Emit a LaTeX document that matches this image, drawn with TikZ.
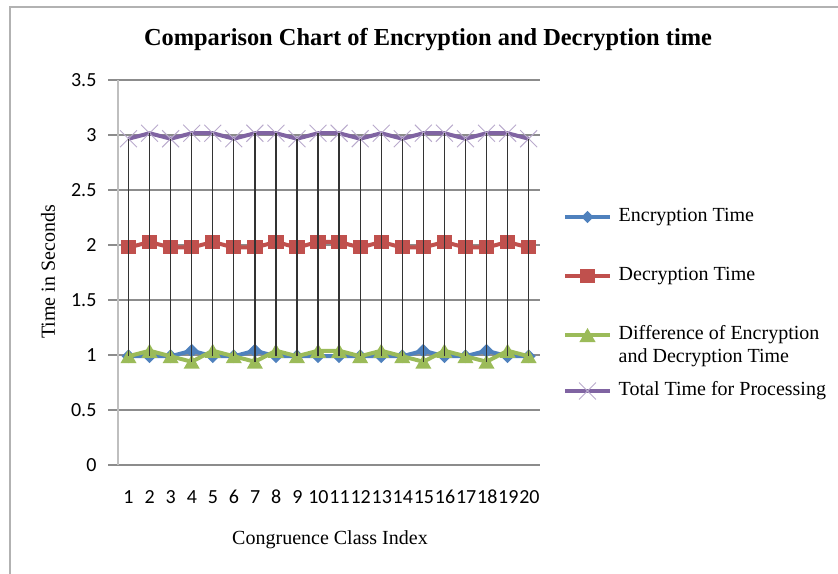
\documentclass[tikz,border=0pt]{standalone}
\usepackage{fontspec}
\setmainfont{Liberation Serif}
\newfontfamily\tickfont{Carlito}
\usetikzlibrary{calc,positioning,shapes.geometric,shapes.misc}

\definecolor{encblue}{HTML}{4F81BD}
\definecolor{decred}{HTML}{C0504D}
\definecolor{diffgreen}{HTML}{9BBB59}
\definecolor{totpurple}{HTML}{8064A2}

\tikzset{
  gridline/.style={draw=gray!90,line width=0.8pt},
  axisline/.style={draw=gray!50,line width=1.1pt},
  dropline/.style={draw=black!80,line width=1pt},
  series/.style={line width=3pt,line join=round},
  encmark/.style={diamond,fill=encblue,inner sep=0pt,minimum width=10.5pt,minimum height=10.5pt},
  decmark/.style={rectangle,fill=decred,inner sep=0pt,minimum width=11.5pt,minimum height=10.5pt},
  diffmark/.style={regular polygon,regular polygon sides=3,fill=diffgreen,inner sep=0pt,minimum size=14pt,yshift=-1.75pt},
  totmark/.style={cross out,draw=totpurple!55,line width=0.7pt,inner sep=0pt,minimum size=12pt},
  ticklabel/.style={font=\tickfont\fontsize{15}{15}\selectfont},
  axistitle/.style={font=\fontsize{15}{15}\selectfont},
  legendtext/.style={font=\fontsize{15}{17.25}\selectfont,anchor=west,align=left},
}

\begin{document}
\begin{tikzpicture}[x=0.75pt,y=-0.75pt]
  \useasboundingbox (0,0) rectangle (838,574);

  % frame of the chart
  \draw[draw=gray!60,line width=1.5pt] (10,574) -- (10,7) -- (838,7);

  \node[font=\bfseries\fontsize{18.3}{20}\selectfont] (title) at (428,40)
    {Comparison Chart of Encryption and Decryption time};

  \begin{scope}[shift={(107.45,465)},xscale=21.1,yscale=-110]
    % value axis and grid
    \foreach \v [count=\k] in {0,0.5,1,1.5,2,2.5,3,3.5} {
      \draw[gridline] (0.03,\v) -- (20.5,\v);
      \node[ticklabel,anchor=east] (y\k) at (-0.3,\v) {\v};
    }
    \draw[axisline] (0.5,0) -- (0.5,3.5);

    \foreach \i in {1,...,20}
      \node[ticklabel] (x\i) at (\i,-0.29) {\i};

    % index/enc/dec/diff/total
    \foreach \i/\e/\d/\f/\t in {1/0.99/1.98/0.99/2.97, 2/0.99/2.03/1.04/3.02,
        3/0.99/1.98/0.99/2.97, 4/1.04/1.98/0.94/3.02, 5/0.99/2.03/1.04/3.02,
        6/0.99/1.98/0.99/2.97, 7/1.04/1.98/0.94/3.02, 8/0.99/2.03/1.04/3.02,
        9/0.99/1.98/0.99/2.97, 10/0.99/2.03/1.04/3.02, 11/0.99/2.03/1.04/3.02,
        12/0.99/1.98/0.99/2.97, 13/0.99/2.03/1.04/3.02, 14/0.99/1.98/0.99/2.97,
        15/1.04/1.98/0.94/3.02, 16/0.99/2.03/1.04/3.02, 17/0.99/1.98/0.99/2.97,
        18/1.04/1.98/0.94/3.02, 19/0.99/2.03/1.04/3.02, 20/0.99/1.98/0.99/2.97} {
      \pgfmathsetmacro\lo{min(\e,\f)}
      \coordinate (e\i) at (\i,\e);
      \coordinate (d\i) at (\i,\d);
      \coordinate (f\i) at (\i,\f);
      \coordinate (t\i) at (\i,\t);
      \coordinate (lo\i) at (\i,\lo);
    }

    \draw[series,encblue] (e1) \foreach \i in {2,...,20} {-- (e\i)};
    \foreach \i in {1,...,20} \node[encmark] (me\i) at (e\i) {};

    \draw[series,decred] (d1) \foreach \i in {2,...,20} {-- (d\i)};
    \foreach \i in {1,...,20} \node[decmark] (md\i) at (d\i) {};

    \draw[series,diffgreen] (f1) \foreach \i in {2,...,20} {-- (f\i)};
    \foreach \i in {1,...,20} \node[diffmark] (mf\i) at (f\i) {};

    \draw[series,totpurple] (t1) \foreach \i in {2,...,20} {-- (t\i)};
    \foreach \i in {1,...,20} \node[totmark] (mt\i) at (t\i) {};

    % high-low lines
    \foreach \i in {1,...,20}
      \draw[dropline] (lo\i) -- (t\i);
  \end{scope}

  \node[axistitle,rotate=90] (ytitle) at (48,272) {Time in Seconds};
  \node[axistitle] (xtitle) at (330,540) {Congruence Class Index};

  % legend
  \coordinate (legE) at (565,217);
  \coordinate (legD) at (565,276);
  \coordinate (legF) at (565,335);
  \coordinate (legT) at (565,391);
  \draw[series,encblue] (legE) -- ++(45,0) node[midway,encmark] (legEm) {};
  \draw[series,decred] (legD) -- ++(45,0) node[midway,decmark] (legDm) {};
  \draw[series,diffgreen] (legF) -- ++(45,0) node[midway,diffmark] (legFm) {};
  \draw[series,totpurple] (legT) -- ++(45,0) node[midway,totmark] (legTm) {};
  \node[legendtext] (legEt) at (614,217) {Encryption Time};
  \node[legendtext] (legDt) at (614,276) {Decryption Time};
  \node[legendtext] (legFt) at (614,346) {Difference of Encryption\\and Decryption Time};
  \node[legendtext] (legTt) at (614,391) {Total Time for Processing};
\end{tikzpicture}
\end{document}
